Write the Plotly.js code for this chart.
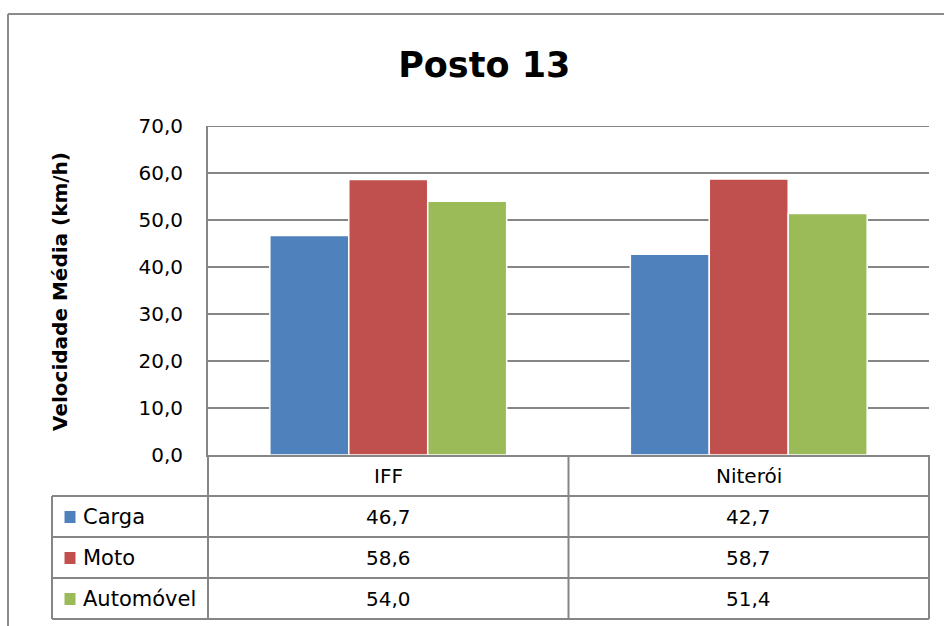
<!DOCTYPE html>
<html>
<head>
<meta charset="utf-8">
<script src="https://cdn.plot.ly/plotly-3.0.1.min.js"></script>
<style>
html,body{margin:0;padding:0;background:#fff;}
#chart{width:944px;height:626px;}
</style>
</head>
<body>
<div id="chart"></div>
<script>
// ---- data ----
const categories = ["IFF", "Niterói"];
const seriesNames = ["Carga", "Moto", "Automóvel"];
const carga = [46.7, 42.7];
const moto = [58.6, 58.7];
const automovel = [54.0, 51.4];
const seriesColors = ["#4F81BD", "#C0504D", "#9BBB59"];
const yTicks = [0, 10, 20, 30, 40, 50, 60, 70];
const chartTitle = "Posto 13";
const yTitle = "Velocidade Média (km/h)";

const seriesValues = [carga, moto, automovel];

// ---- geometry (pixels) ----
const W = 944, H = 626;
const L = 208, R = 929, T = 126, B = 455;
const pw = R - L, ph = B - T;
const px = x => (x - L) / pw;
const py = y => (B - y) / ph;
const gray = "#868686";
const FONT = "DejaVu Sans, Liberation Sans, sans-serif";

const traces = seriesNames.map((name, i) => ({
  type: "bar",
  name: name,
  x: categories,
  y: seriesValues[i],
  marker: { color: seriesColors[i], line: { color: "#ffffff", width: 1.5 } },
  hoverinfo: "x+y+name"
}));

// table layout
const tableLeft = 52;
const colEdges = [L, (L + R) / 2, R];
const rowEdges = [455, 496, 537, 578, 619];

const shapes = [];
// outer chart border
shapes.push({ type: "line", xref: "paper", yref: "paper", x0: px(8), x1: px(960), y0: py(14), y1: py(14), line: { color: "#8c8c8c", width: 2 } });
shapes.push({ type: "line", xref: "paper", yref: "paper", x0: px(8), x1: px(8), y0: py(14), y1: py(640), line: { color: "#8c8c8c", width: 2 } });
// top gridline (70,0) at the edge of the plot area
shapes.push({ type: "line", xref: "paper", yref: "y", x0: 0, x1: 1, y0: yTicks[yTicks.length - 1], y1: yTicks[yTicks.length - 1], line: { color: gray, width: 2 }, layer: "below" });

// table horizontal lines
for (let r = 1; r < rowEdges.length; r++) {
  shapes.push({ type: "line", xref: "paper", yref: "paper", x0: px(tableLeft), x1: px(R), y0: py(rowEdges[r]), y1: py(rowEdges[r]), line: { color: gray, width: 2 } });
}
// header row verticals + data verticals
colEdges.forEach(cx => {
  shapes.push({ type: "line", xref: "paper", yref: "paper", x0: px(cx), x1: px(cx), y0: py(455), y1: py(619), line: { color: gray, width: 2 } });
});
shapes.push({ type: "line", xref: "paper", yref: "paper", x0: px(tableLeft), x1: px(tableLeft), y0: py(496), y1: py(619), line: { color: gray, width: 2 } });

const annotations = [];
// header categories
categories.forEach((c, j) => {
  annotations.push({ xref: "paper", yref: "paper", x: px((colEdges[j] + colEdges[j + 1]) / 2), y: py((rowEdges[0] + rowEdges[1]) / 2), text: c, showarrow: false, xanchor: "center", yanchor: "middle", font: { family: FONT, size: 20, color: "#000" } });
});
// rows
seriesNames.forEach((name, i) => {
  const yc = (rowEdges[i + 1] + rowEdges[i + 2]) / 2;
  // legend key
  shapes.push({ type: "rect", xref: "paper", yref: "paper", x0: px(64), x1: px(76), y0: py(yc - 6), y1: py(yc + 7), fillcolor: seriesColors[i], line: { color: "#ffffff", width: 1 } });
  annotations.push({ xref: "paper", yref: "paper", x: px(81), y: py(yc), text: name, showarrow: false, xanchor: "left", yanchor: "middle", font: { family: FONT, size: 21, color: "#000" } });
  seriesValues[i].forEach((v, j) => {
    annotations.push({ xref: "paper", yref: "paper", x: px((colEdges[j] + colEdges[j + 1]) / 2), y: py(yc), text: v.toFixed(1).replace(".", ","), showarrow: false, xanchor: "center", yanchor: "middle", font: { family: FONT, size: 20, color: "#000" } });
  });
});
// y axis title
annotations.push({ xref: "paper", yref: "paper", x: px(60), y: py(292), text: "<b>" + yTitle + "</b>", textangle: -90, showarrow: false, xanchor: "center", yanchor: "middle", font: { family: FONT, size: 20, color: "#000" } });

const layout = {
  width: W, height: H,
  margin: { l: L, r: W - R, t: T, b: H - B, pad: 0 },
  paper_bgcolor: "#ffffff",
  plot_bgcolor: "#ffffff",
  separators: ",.",
  title: { text: "<b>" + chartTitle + "</b>", x: 0.513, xanchor: "center", y: 1 - 65 / H, yanchor: "middle", font: { family: FONT, size: 35, color: "#000" } },
  showlegend: false,
  barmode: "group",
  bargap: 0.343,
  bargroupgap: 0,
  xaxis: { type: "category", showticklabels: false, ticks: "", showgrid: false, zeroline: false, showline: true, linecolor: gray, linewidth: 2, fixedrange: true },
  yaxis: { range: [0, 70], tickvals: yTicks, tickformat: ".1f", ticks: "", ticklen: 0, showgrid: true, gridcolor: gray, gridwidth: 2, zeroline: false, showline: true, linecolor: gray, linewidth: 2, mirror: false, tickfont: { family: FONT, size: 20, color: "#000" }, ticklabelstandoff: 19, fixedrange: true },
  shapes: shapes,
  annotations: annotations
};

Plotly.newPlot("chart", traces, layout, { displayModeBar: false, staticPlot: true });
</script>
</body>
</html>
